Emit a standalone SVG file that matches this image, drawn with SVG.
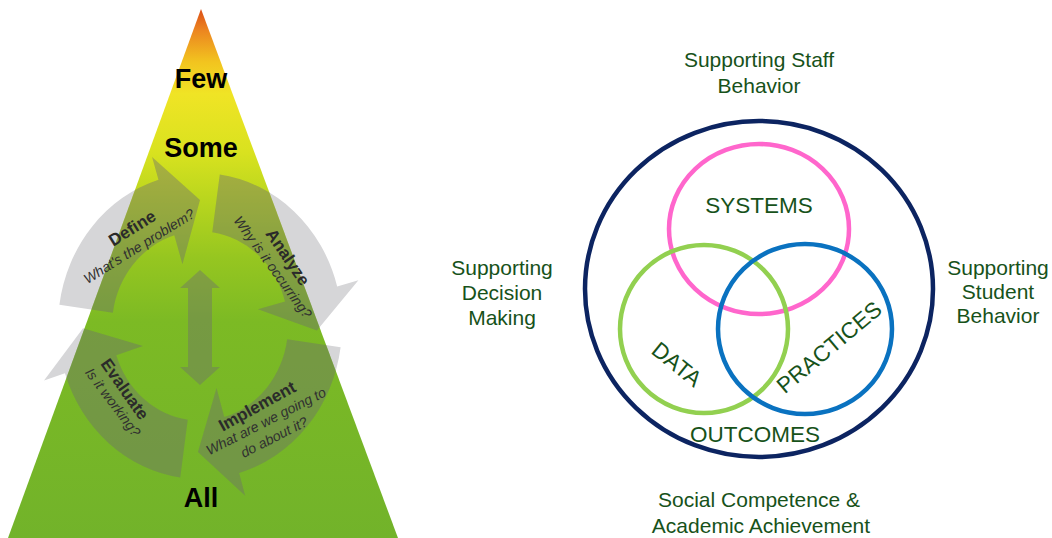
<svg xmlns="http://www.w3.org/2000/svg" width="1052" height="538" viewBox="0 0 1052 538">
  <defs>
    <linearGradient id="pyrGrad" gradientUnits="userSpaceOnUse" x1="0" y1="9" x2="0" y2="538">
      <stop offset="0" stop-color="#dc4e16"/>
      <stop offset="0.04" stop-color="#ec8520"/>
      <stop offset="0.1" stop-color="#f2c41f"/>
      <stop offset="0.16" stop-color="#f0e425"/>
      <stop offset="0.27" stop-color="#d9e21f"/>
      <stop offset="0.36" stop-color="#b9d61e"/>
      <stop offset="0.47" stop-color="#96c620"/>
      <stop offset="0.59" stop-color="#7cba24"/>
      <stop offset="1" stop-color="#72b32a"/>
    </linearGradient>
    <clipPath id="pyrClip">
      <polygon points="201,9 398,538 8,538"/>
    </clipPath>
    <g id="arrows" transform="translate(200,326) scale(1,1.077)">
      <path id="arrow-define" d="M -140.61 -19.76 A 142 142 0 0 1 -41.52 -135.79 L -47.95 -156.84 L 0 -117 L -17.54 -57.38 L -25.73 -84.16 A 88 88 0 0 0 -87.14 -12.25 Z"/>
      <path id="arrow-analyze" d="M 19.76 -140.61 A 142 142 0 0 1 137.16 -36.75 L 158.42 -42.45 L 116.93 4.08 L 57.96 -15.53 L 85.00 -22.78 A 88 88 0 0 0 12.25 -87.14 Z"/>
      <path id="arrow-implement" d="M 140.61 19.76 A 142 142 0 0 1 39.14 136.50 L 45.20 157.65 L -2.04 116.98 L 16.54 57.68 L 24.26 84.59 A 88 88 0 0 0 87.14 12.25 Z"/>
      <path id="arrow-evaluate" d="M -19.76 140.61 A 142 142 0 0 1 -135.05 43.88 L -155.97 50.68 L -116.98 2.04 L -57.07 18.54 L -83.69 27.19 A 88 88 0 0 0 -12.25 87.14 Z"/>
    </g>
  </defs>
  <style>
    .lvl { font-family: "Liberation Sans", Arial, sans-serif; font-weight: bold; font-size: 27px; fill: #000; text-anchor: middle; }
    .step { font-family: "Liberation Sans", Arial, sans-serif; font-weight: bold; font-size: 17px; fill: #2a2a2a; text-anchor: middle; }
    .q { font-family: "Liberation Sans", Arial, sans-serif; font-style: italic; font-size: 14px; fill: #303030; text-anchor: middle; }
    .lab { font-family: "Liberation Sans", Arial, sans-serif; font-size: 21px; fill: #17521a; text-anchor: middle; }
    .vt { font-family: "Liberation Sans", Arial, sans-serif; font-size: 22.5px; fill: #17521a; text-anchor: middle; }
    .ring { fill: none; }
  </style>

  <!-- Cycle arrows, light part outside the pyramid -->
  <g id="cycle-outside">
    <use href="#arrows" fill="#d6d6d8"/>
  </g>

  <!-- Pyramid -->
  <g id="pyramid">
    <polygon points="201,9 398,538 8,538" fill="url(#pyrGrad)"/>
    <text class="lvl" x="201" y="88">Few</text>
    <text class="lvl" x="201" y="157">Some</text>
    <text class="lvl" x="201" y="507">All</text>
  </g>

  <!-- Cycle arrows, tinted part inside the pyramid -->
  <g id="cycle" clip-path="url(#pyrClip)">
    <use href="#arrows" fill="#6e6e6e" fill-opacity="0.42"/>
  </g>
  <g id="double-arrow">
    <polygon fill="#6e6e6e" fill-opacity="0.42" points="200,270 220,288 212,288 212,367 220,367 200,385 180,367 188,367 188,288 180,288"/>
  </g>

  <g id="step-define">
    <g transform="translate(132,228) rotate(-32)"><text class="step" y="6">Define</text></g>
    <g transform="translate(139,246) rotate(-32)"><text class="q" y="5">What's the problem?</text></g>
  </g>
  <g id="step-analyze">
    <g transform="translate(288,257) rotate(56)"><text class="step" y="6">Analyze</text></g>
    <g transform="translate(273,267) rotate(54)"><text class="q" y="5">Why is it occurring?</text></g>
  </g>
  <g id="step-implement">
    <g transform="translate(257,406) rotate(-29)"><text class="step" y="6">Implement</text></g>
    <g transform="translate(266,421) rotate(-27)"><text class="q" y="5">What are we going to</text></g>
    <g transform="translate(274,437) rotate(-27)"><text class="q" y="5">do about it?</text></g>
  </g>
  <g id="step-evaluate">
    <g transform="translate(125,389) rotate(55)"><text class="step" y="6">Evaluate</text></g>
    <g transform="translate(113,402) rotate(53)"><text class="q" y="5">Is it working?</text></g>
  </g>

  <!-- Venn -->
  <g id="outcomes">
    <ellipse class="ring" cx="759" cy="289" rx="174" ry="168" stroke="#0c2461" stroke-width="4.5"/>
    <text class="vt" x="755" y="442">OUTCOMES</text>
  </g>
  <g id="systems">
    <ellipse class="ring" cx="759" cy="229" rx="90" ry="85" stroke="#ff66cc" stroke-width="4.5"/>
    <text class="vt" x="759" y="213">SYSTEMS</text>
  </g>
  <g id="data">
    <circle class="ring" cx="704" cy="329" r="84" stroke="#92d050" stroke-width="4.5"/>
    <g transform="translate(677,364) rotate(39)"><text class="vt" y="8">DATA</text></g>
  </g>
  <g id="practices">
    <ellipse class="ring" cx="805" cy="329" rx="87" ry="85" stroke="#0a72c0" stroke-width="4.5"/>
    <g transform="translate(829,347) rotate(-40)"><text class="vt" y="8">PRACTICES</text></g>
  </g>

  <!-- Surrounding labels -->
  <g id="label-staff">
    <text class="lab" x="759" y="67">Supporting Staff</text>
    <text class="lab" x="759" y="93">Behavior</text>
  </g>
  <g id="label-decision">
    <text class="lab" x="502" y="275">Supporting</text>
    <text class="lab" x="502" y="300">Decision</text>
    <text class="lab" x="502" y="325">Making</text>
  </g>
  <g id="label-student">
    <text class="lab" x="998" y="275">Supporting</text>
    <text class="lab" x="998" y="299">Student</text>
    <text class="lab" x="998" y="323">Behavior</text>
  </g>
  <g id="label-outcome">
    <text class="lab" x="759" y="507">Social Competence &amp;</text>
    <text class="lab" x="761" y="533">Academic Achievement</text>
  </g>
</svg>
